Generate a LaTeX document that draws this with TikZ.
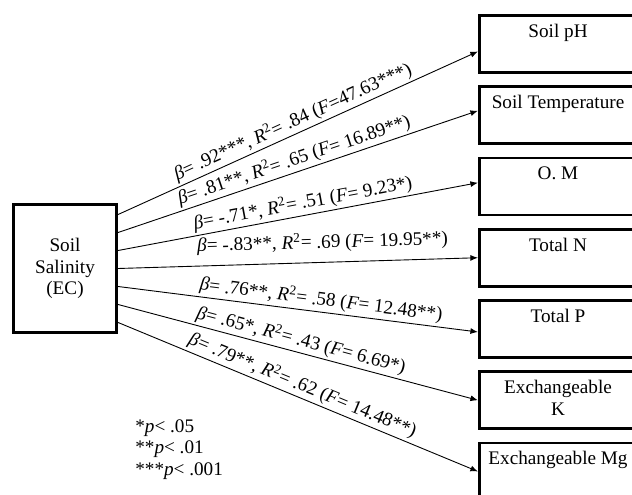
\documentclass[tikz,border=0pt]{standalone}
\usepackage{fontspec}
\setmainfont{Liberation Serif}
\usetikzlibrary{arrows.meta}
\usetikzlibrary{positioning}
\tikzset{
    cause/.style={
           rectangle,
           draw=black, line width=1.8pt,
           minimum width=69pt, minimum height=85pt,
           align=center,
           },
}
\tikzset{
    effect/.style={
           rectangle,
           draw=black, line width=1.8pt,
           minimum width=105pt, minimum height=38pt,
           },
}
\tikzset{
    inlabel/.style={
           anchor=north,
           align=center,
           yshift=-3pt,
           },
}
\tikzset{
    coef/.style={
           pos=0.5, above, sloped,
           inner sep=1.5pt,
           },
}
\tikzset{
    link/.style={
           -{Latex[length=5pt,width=4pt]},
           line width=0.6pt,
           },
}

\begin{document}
\begin{tikzpicture}[x=0.6667pt,y=-0.6667pt,font=\fontsize{12.8}{14.5}\selectfont,node distance=7.7pt]
\clip (0,0) rectangle (632,495);
\node[cause](sal) at (65,268.5){Soil\\Salinity\\(EC)};
\node[effect,label={[inlabel]north:Soil pH}](ph) at (558,44){};
\node[effect,label={[inlabel]north:Soil Temperature},below=of ph](temp){};
\node[effect,label={[inlabel]north:O. M},below=of temp](om){};
\node[effect,label={[inlabel]north:Total N},below=of om](totn){};
\node[effect,label={[inlabel]north:Total P},below=of totn](totp){};
\node[effect,label={[inlabel]north:Exchangeable\\K},below=of totp](exk){};
\node[effect,label={[inlabel]north:Exchangeable Mg},below=of exk](exmg){};
\draw[link] ([yshift=36pt]sal.east) -- ([yshift=-5pt]ph.west)
    node[coef]{\textit{β}= .92***, \textit{R}\textsuperscript{2}= .84 (\textit{F}=47.63***)};
\draw[link] ([yshift=24pt]sal.east) -- ([yshift=3pt]temp.west)
    node[coef]{\textit{β}= .81**, \textit{R}\textsuperscript{2}= .65 (\textit{F}= 16.89**)};
\draw[link] ([yshift=12pt]sal.east) -- ([yshift=2.5pt]om.west)
    node[coef,pos=0.52]{\textit{β}= -.71*, \textit{R}\textsuperscript{2}= .51 (\textit{F}= 9.23*)};
\draw[link] (sal.east) -- (totn.west)
    node[coef,pos=0.57,above=5pt]{\textit{β}= -.83**, \textit{R}\textsuperscript{2}= .69 (\textit{F}= 19.95**)};
\draw[link] ([yshift=-12pt]sal.east) -- ([yshift=-2pt]totp.west)
    node[coef,pos=0.56]{\textit{β}= .76**, \textit{R}\textsuperscript{2}= .58 (\textit{F}= 12.48**)};
\draw[link] ([yshift=-24pt]sal.east) -- (exk.west)
    node[coef]{\textit{β}= .65*, \textit{R}\textsuperscript{2}= .43 (\textit{F}= 6.69*)};
\draw[link] ([yshift=-36pt]sal.east) -- (exmg.west)
    node[coef]{\textit{β}= .79**, \textit{R}\textsuperscript{2}= .62 (\textit{F}= 14.48**)};
\node[anchor=north west,inner sep=0pt,align=left](sig) at (135,419){*\textit{p}< .05\\**\textit{p}< .01\\***\textit{p}< .001};
\end{tikzpicture}
\end{document}
